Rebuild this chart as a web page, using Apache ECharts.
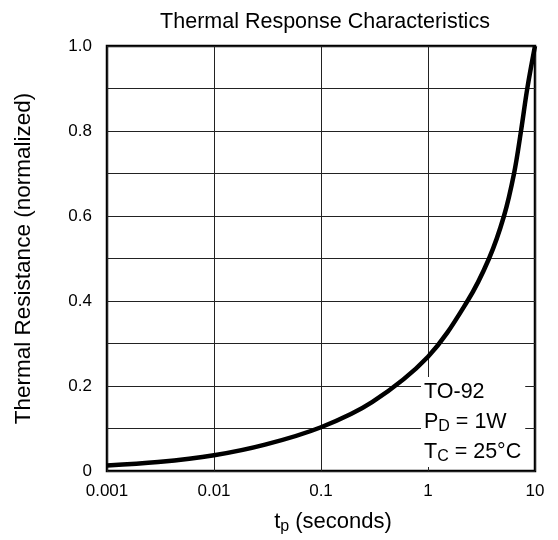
<!DOCTYPE html>
<html>
<head>
<meta charset="utf-8">
<script src="https://cdn.jsdelivr.net/npm/echarts@6/dist/echarts.min.js"></script>
<style>
  html, body { margin: 0; padding: 0; background: #fff; }
  #chart { width: 558px; height: 540px; }
</style>
</head>
<body>
<div id="chart"></div>
<script>
// pulse duration (s) and normalized thermal resistance
const pulseTimes = [0.001, 0.003, 0.01, 0.03, 0.1, 0.3, 1, 2.34, 3.72, 5.13, 6.37, 7.4, 8.47, 10]
const thermalRes = [0.013, 0.021, 0.037, 0.062, 0.103, 0.162, 0.269, 0.4, 0.5, 0.6, 0.7, 0.8, 0.9, 1.0]
const xTickLabels = ['0.001', '0.01', '0.1', '1', '10']

const FONT = '"Liberation Sans", Arial, Helvetica, sans-serif'

const chart = echarts.init(document.getElementById('chart'))

const option = {
  backgroundColor: '#fff',
  animation: false,
  title: {
    text: 'Thermal Response Characteristics',
    left: 320,
    top: 6,
    textAlign: 'center',
    textStyle: { fontFamily: FONT, fontSize: 21.5, fontWeight: 'normal', color: '#000' }
  },
  grid: {
    left: 107, right: 23, top: 46, bottom: 67,
    show: true,
    borderColor: '#000',
    borderWidth: 2.5,
    backgroundColor: 'transparent'
  },
  xAxis: {
    type: 'log',
    logBase: 10,
    min: 0.001,
    max: 10,
    name: 't{sub|p} (seconds)',
    nameLocation: 'middle',
    nameGap: 38,
    nameTextStyle: {
      fontFamily: FONT, fontSize: 22, color: '#000',
      padding: [0, 0, 0, 24],
      rich: { sub: { fontFamily: FONT, fontSize: 16, color: '#000', padding: [10, 0, 0, 0] } }
    },
    axisLine: { show: false },
    axisTick: { show: true, inside: true, length: 6, lineStyle: { color: '#222' } },
    minorTick: { show: false },
    splitLine: { show: true, lineStyle: { color: '#222', width: 1 } },
    axisLabel: {
      fontFamily: FONT, fontSize: 17, color: '#000', margin: 12,
      formatter: v => xTickLabels[Math.round(Math.log10(v)) + 3]
    }
  },
  yAxis: {
    type: 'value',
    min: 0,
    max: 1,
    interval: 0.1,
    name: 'Thermal Resistance (normalized)',
    nameLocation: 'middle',
    nameGap: 72,
    nameRotate: 90,
    nameTextStyle: { fontFamily: FONT, fontSize: 22.5, color: '#000' },
    axisLine: { show: false },
    axisTick: { show: true, inside: true, length: 6, lineStyle: { color: '#222' } },
    splitLine: { show: true, lineStyle: { color: '#222', width: 1 } },
    axisLabel: {
      fontFamily: FONT, fontSize: 17, color: '#000', margin: 15,
      formatter: v => {
        const k = Math.round(v * 10)
        if (k % 2) return ''
        return k === 0 ? '0' : (k / 10).toFixed(1)
      }
    }
  },
  series: [{
    type: 'line',
    data: pulseTimes.map((t, i) => [t, thermalRes[i]]),
    smooth: 0.35,
    showSymbol: false,
    lineStyle: { color: '#000', width: 4.5 },
    z: 5
  }],
  graphic: [{
    type: 'text',
    left: 421,
    top: 377,
    z: 10,
    style: {
      text: 'TO-92\nP{sub|D} = 1W\nT{sub|C} = 25°C',
      fontFamily: FONT,
      fontSize: 21.5,
      lineHeight: 30,
      fill: '#000',
      backgroundColor: '#fff',
      padding: [0, 4, 0, 3],
      rich: {
        sub: { fontFamily: FONT, fontSize: 16, lineHeight: 30, fill: '#000', padding: [10, 0, 0, 0] }
      }
    }
  }]
}

chart.setOption(option)
</script>
</body>
</html>
